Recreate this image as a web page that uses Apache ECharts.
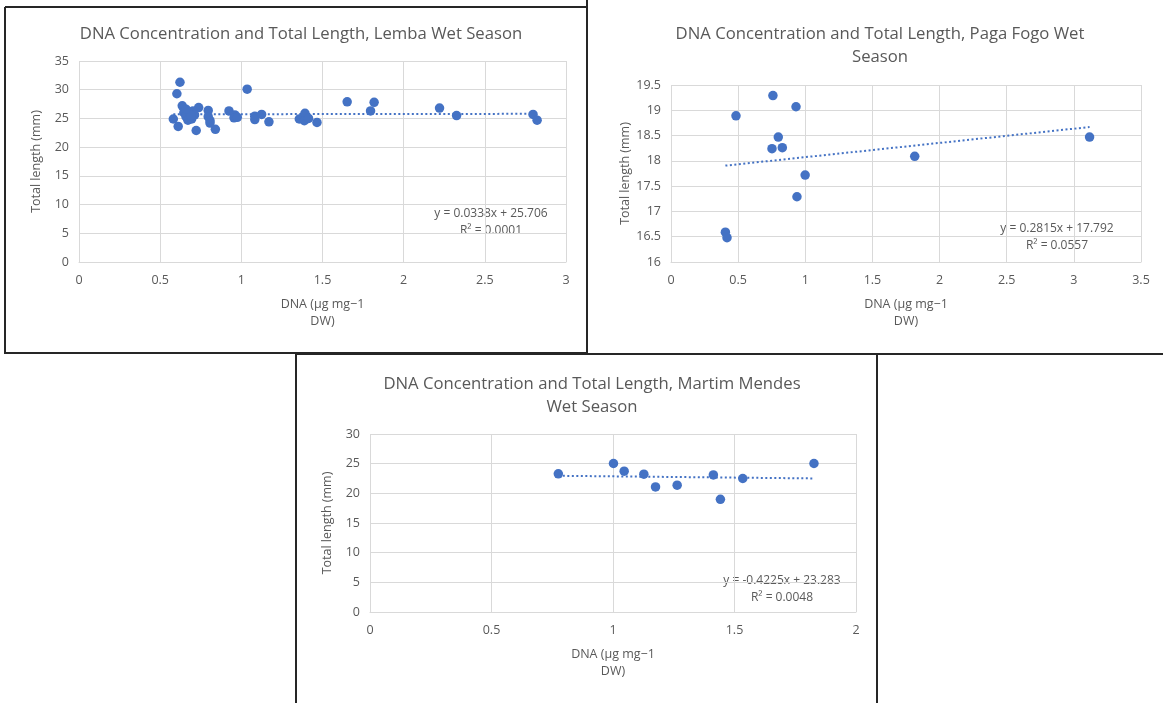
<!DOCTYPE html>
<html><head><meta charset="utf-8">
<script src="https://cdn.jsdelivr.net/npm/echarts@6/dist/echarts.min.js"></script>
<style>html,body{margin:0;padding:0;background:#fff}#c{width:1163px;height:703px}</style>
</head><body><div id="c"></div>
<script>
// ---- Data ----
const lembaX = [0.622,0.603,0.636,0.581,0.611,0.722,0.737,0.840,1.036,0.924,0.960,0.955,0.975,1.083,1.083,1.125,1.170,1.357,1.392,1.388,1.414,1.466,1.652,1.818,1.796,2.221,2.326,2.797,2.822,0.796,0.796,0.807,0.807,0.646,0.659,0.671,0.683,0.694,0.702,0.712,0.690,0.660];
const lembaY = [31.3,29.3,27.2,24.9,23.6,22.9,26.9,23.1,30.1,26.3,25.6,25.1,25.2,25.4,24.8,25.7,24.4,24.9,25.9,24.6,25.0,24.3,27.9,27.8,26.3,26.8,25.5,25.7,24.7,26.4,25.3,24.6,24.2,26.0,25.3,24.7,26.0,24.9,26.3,25.6,25.5,26.6];
const lembaTrendX = [0.581, 2.822];
const lembaTrendY = [25.726, 25.801];

const pagaX = [0.759,0.931,0.484,0.799,0.752,0.829,0.999,0.938,0.405,0.417,1.815,3.117];
const pagaY = [19.29,19.07,18.89,18.47,18.24,18.26,17.72,17.29,16.59,16.48,18.09,18.47];
const pagaTrendX = [0.405, 3.117];
const pagaTrendY = [17.906, 18.669];

const martimX = [0.775,1.002,1.046,1.127,1.175,1.264,1.413,1.442,1.534,1.827];
const martimY = [23.28,25.03,23.73,23.23,21.08,21.37,23.11,19.0,22.5,25.03];
const martimTrendX = [0.775, 1.827];
const martimTrendY = [22.956, 22.511];

const titles = [
  'DNA Concentration and Total Length, Lemba Wet Season',
  'DNA Concentration and Total Length, Paga Fogo Wet\nSeason',
  'DNA Concentration and Total Length, Martim Mendes\nWet Season'
];
const xName = 'DNA (µg mg−1\nDW)';
const yName = 'Total length (mm)';
const eqTexts = [
  'y = 0.0338x + 25.706\nR² = 0.0001',
  'y = 0.2815x + 17.792\nR² = 0.0557',
  'y = -0.4225x + 23.283\nR² = 0.0048'
];
const axisRanges = [
  {xmin:0, xmax:3, xint:0.5, ymin:0, ymax:35, yint:5},
  {xmin:0, xmax:3.5, xint:0.5, ymin:16, ymax:19.5, yint:0.5},
  {xmin:0, xmax:2, xint:0.5, ymin:0, ymax:30, yint:5}
];

// ---- Build ----
const FONT = 'Open Sans';
const TXT = '#595959';
const GRID = '#D9D9D9';
const BLUE = '#4472C4';
const zip = (a, b) => a.map((v, i) => [v, b[i]]);

const grids = [
  {left: 79, top: 61, width: 487, height: 201},
  {left: 671, top: 85, width: 470, height: 177},
  {left: 370, top: 434, width: 486, height: 178}
];
const titlePos = [{x: 296, y: 18}, {x: 875, y: 18}, {x: 587, y: 368}];
const eqPos = [{x: 491, y: 205}, {x: 1057, y: 220}, {x: 782, y: 572}];

const xAxes = axisRanges.map((r, i) => ({
  type: 'value', gridIndex: i, min: r.xmin, max: r.xmax, interval: r.xint,
  name: xName, nameLocation: 'middle', nameGap: 34,
  nameTextStyle: {color: TXT, fontFamily: FONT, fontSize: 12.5, lineHeight: 17},
  axisLine: {show: true, lineStyle: {color: GRID}},
  axisTick: {show: false},
  axisLabel: {color: TXT, fontFamily: FONT, fontSize: 12.5, margin: 12},
  splitLine: {show: true, lineStyle: {color: GRID, width: 1}}
}));
const yAxes = axisRanges.map((r, i) => ({
  type: 'value', gridIndex: i, min: r.ymin, max: r.ymax, interval: r.yint,
  name: yName, nameLocation: 'middle', nameGap: 36,
  nameTextStyle: {color: TXT, fontFamily: FONT, fontSize: 12.5},
  axisLine: {show: false},
  axisTick: {show: false},
  axisLabel: {color: TXT, fontFamily: FONT, fontSize: 12.5, margin: 10},
  splitLine: {show: true, lineStyle: {color: GRID, width: 1}}
}));

const scatters = [zip(lembaX, lembaY), zip(pagaX, pagaY), zip(martimX, martimY)];
const trends = [zip(lembaTrendX, lembaTrendY), zip(pagaTrendX, pagaTrendY), zip(martimTrendX, martimTrendY)];

const series = [];
trends.forEach((d, i) => series.push({
  type: 'line', xAxisIndex: i, yAxisIndex: i, data: d, symbol: 'none', silent: true,
  lineStyle: {color: BLUE, width: 2, type: [2, 2.5]}, z: 2
}));
scatters.forEach((d, i) => series.push({
  type: 'scatter', xAxisIndex: i, yAxisIndex: i, data: d, symbol: 'circle', symbolSize: 9.5,
  itemStyle: {color: BLUE, opacity: 1}, z: 3
}));

const graphics = [
  // panel borders
  {type: 'polyline', shape: {points: [[5,7],[587,7],[587,353],[5,353],[5,7]]}, style: {stroke: '#262626', lineWidth: 2, fill: null}},
  {type: 'polyline', shape: {points: [[587,0],[587,354],[1163,354]]}, style: {stroke: '#262626', lineWidth: 2, fill: null}},
  {type: 'rect', shape: {x: 296, y: 354, width: 581, height: 360}, style: {stroke: '#262626', lineWidth: 2, fill: null}}
];
eqTexts.forEach((t, i) => graphics.push({
  type: 'text', x: eqPos[i].x, y: eqPos[i].y,
  style: {text: t, fill: TXT, font: '12px "' + FONT + '"', textAlign: 'center', lineHeight: 17}
}));

const option = {
  backgroundColor: '#ffffff',
  animation: false,
  title: titles.map((t, i) => ({
    text: t, left: titlePos[i].x, top: titlePos[i].y, textAlign: 'center',
    textStyle: {color: TXT, fontFamily: FONT, fontSize: 16.7, fontWeight: 'normal', lineHeight: 23}
  })),
  grid: grids,
  xAxis: xAxes,
  yAxis: yAxes,
  series: series,
  graphic: graphics
};
const chart = echarts.init(document.getElementById('c'), null, {renderer: 'canvas'});
chart.setOption(option);
</script></body></html>
